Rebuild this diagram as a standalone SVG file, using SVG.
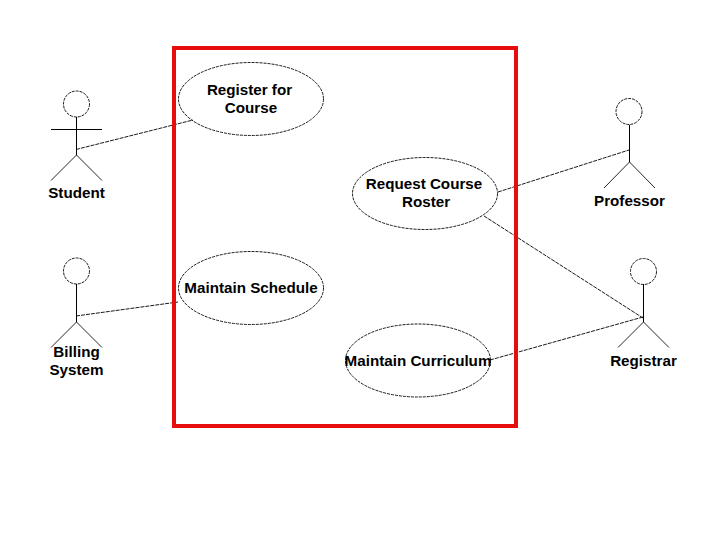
<svg xmlns="http://www.w3.org/2000/svg" width="720" height="540" viewBox="0 0 720 540">
<style>
.stroke{fill:none;stroke:#000;stroke-width:1;shape-rendering:crispEdges}
.leg{fill:none;stroke:#000;stroke-width:.85}
.uc{fill:none;stroke:#000;stroke-width:.9;stroke-dasharray:3 1}
.conn{fill:none;stroke:#000;stroke-width:.9;stroke-dasharray:4 1}
text{font-family:"Liberation Sans",Arial,sans-serif;font-size:15.2px;font-weight:700;fill:#000;text-anchor:middle}
</style>
<rect width="720" height="540" fill="#fff"/>
<g id="connectors">
<line class="conn" x1="76" y1="149.500" x2="193" y2="120"/>
<line class="conn" x1="76" y1="316" x2="178" y2="302"/>
<line class="conn" x1="498" y1="192" x2="629" y2="150"/>
<line class="conn" x1="484" y1="216" x2="643" y2="318"/>
<line class="conn" x1="490" y1="360" x2="643" y2="317"/>
</g>
<g id="student"><circle class="uc" cx="76.500" cy="104" r="13"/><path class="stroke" d="M76.500 117V155M51 129.500H102"/><path class="leg" d="M76.500 155L51 180.500M76.500 155L102 180.500"/><text x="76.500" y="198">Student</text></g>
<g id="billing-system"><circle class="uc" cx="76.500" cy="271" r="13"/><path class="stroke" d="M76.500 284V322"/><path class="leg" d="M76.500 322L51 347.500M76.500 322L102 347.500"/><text x="76.500" y="357">Billing</text><text x="76.500" y="374.500">System</text></g>
<g id="professor"><circle class="uc" cx="629" cy="111.500" r="13"/><path class="stroke" d="M629.500 124.500V162"/><path class="leg" d="M629.500 162L604 188M629.500 162L655 188"/><text x="629.500" y="206">Professor</text></g>
<g id="registrar"><circle class="uc" cx="643.500" cy="271.500" r="13"/><path class="stroke" d="M643.500 284V322"/><path class="leg" d="M643.500 322L618 347.500M643.500 322L669 347.500"/><text x="643.500" y="366">Registrar</text></g>
<g id="system-boundary"><rect x="174" y="48" width="342" height="378" fill="none" stroke="#e60d0d" stroke-width="4"/></g>
<g id="register-for-course"><ellipse class="uc" cx="251" cy="99" rx="72.500" ry="36.500"/><text x="249.500" y="95">Register for</text><text x="251" y="113">Course</text></g>
<g id="maintain-schedule"><ellipse class="uc" cx="251" cy="288" rx="72.500" ry="36.500"/><text x="251" y="293">Maintain Schedule</text></g>
<g id="request-course-roster"><ellipse class="uc" cx="425" cy="193.500" rx="72.500" ry="36"/><text x="424" y="189">Request Course</text><text x="426" y="207">Roster</text></g>
<g id="maintain-curriculum"><ellipse class="uc" cx="418" cy="360.500" rx="72.500" ry="36.500"/><text x="418" y="366">Maintain Curriculum</text></g>
</svg>
